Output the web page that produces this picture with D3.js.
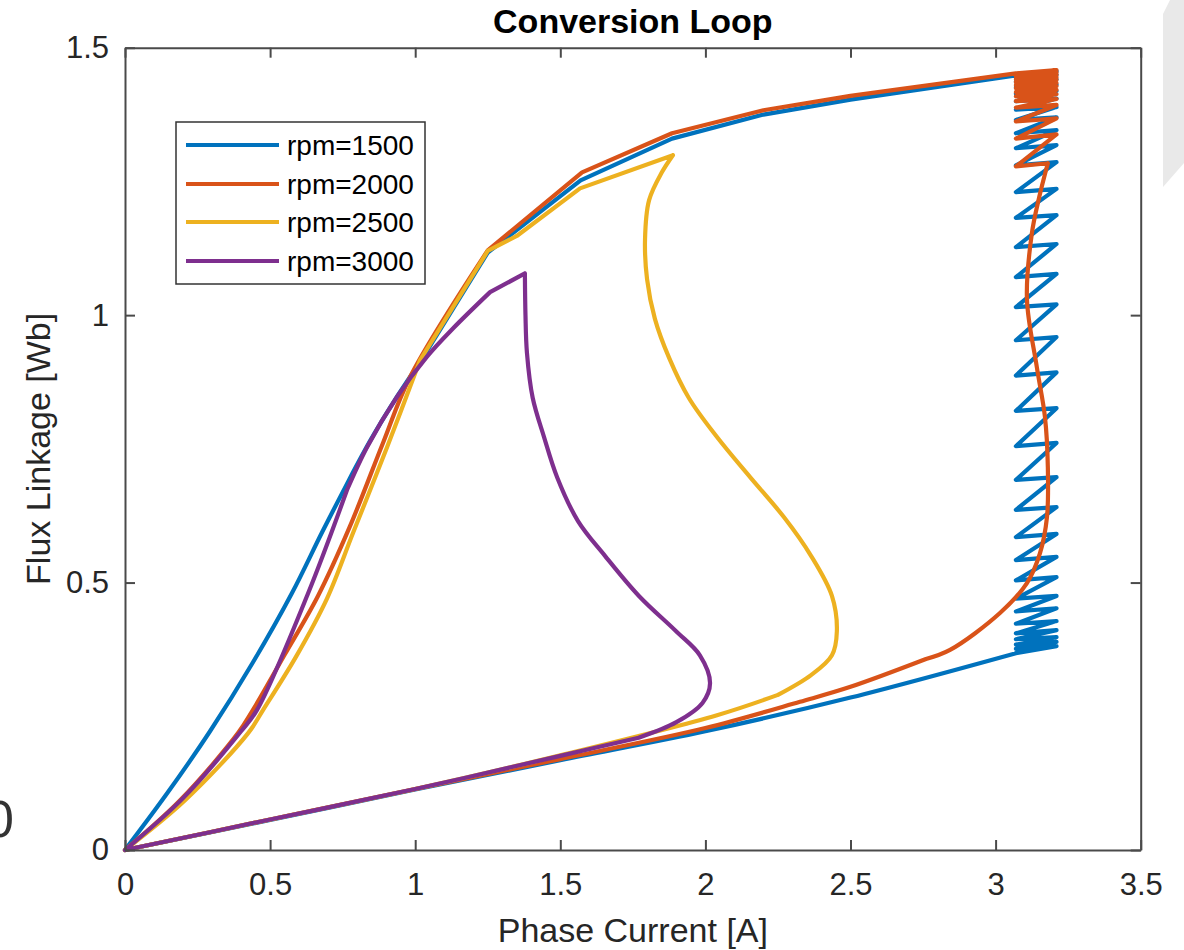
<!DOCTYPE html>
<html>
<head>
<meta charset="utf-8">
<script src="https://cdn.jsdelivr.net/npm/d3@7"></script>
<style>
  html, body { margin: 0; padding: 0; background: #ffffff; }
  svg { display: block; font-family: "Liberation Sans", Arial, Helvetica, sans-serif; }
</style>
</head>
<body>
<svg id="chart" width="1184" height="950"></svg>
<script>
// Flux-linkage vs phase-current conversion loops for four speeds.
const seriesNames = ["rpm=1500", "rpm=2000", "rpm=2500", "rpm=3000"];
const xTickValues = [0, 0.5, 1, 1.5, 2, 2.5, 3, 3.5];
const xTickLabels = ["0", "0.5", "1", "1.5", "2", "2.5", "3", "3.5"];
const yTickValues = [0, 0.5, 1, 1.5];
const yTickLabels = ["0", "0.5", "1", "1.5"];

// Each loop is stored branch by branch, points as [phase current A, flux linkage Wb].
// Smooth branches are drawn with a spline, chopping/sampled branches as straight segments.
const rpm1500Rise = [[0,0],[0.144,0.105],[0.293,0.222],[0.44,0.35],[0.575,0.48],[0.68,0.595],[0.772,0.692]];
const rpm1500Knee = [[0.772,0.692],[0.85,0.77],[0.94,0.85],[1.02,0.915]];
const rpm1500Top = [[1.02,0.915],[1.25,1.117],[1.57,1.252],[1.885,1.33],[2.2,1.375],[2.5,1.403],[3.07,1.448]];
const rpm1500Chop = [
  [3.07,1.448],[3.21,1.456],[3.07,1.444],[3.21,1.449],[3.07,1.436],[3.21,1.441],[3.07,1.426],[3.21,1.431],
  [3.07,1.414],[3.21,1.419],[3.07,1.400],[3.21,1.405],[3.07,1.384],[3.21,1.389],[3.07,1.365],
  [3.21,1.370],[3.07,1.340],[3.21,1.346],[3.07,1.312],[3.21,1.318],[3.07,1.280],[3.21,1.286],
  [3.07,1.230],[3.21,1.236],[3.07,1.182],[3.21,1.187],[3.07,1.127],[3.21,1.133],[3.07,1.071],
  [3.21,1.077],[3.07,1.015],[3.21,1.020],[3.07,0.953],[3.21,0.959],[3.07,0.887],[3.21,0.893],
  [3.07,0.821],[3.21,0.826],[3.07,0.755],[3.21,0.761],[3.07,0.692],[3.21,0.697],[3.07,0.636],
  [3.21,0.641],[3.07,0.585],[3.21,0.591],[3.07,0.542],[3.21,0.548],[3.07,0.504],[3.21,0.510],
  [3.07,0.470],[3.21,0.475],[3.07,0.446],[3.21,0.452],[3.07,0.423],[3.21,0.428],[3.07,0.405],
  [3.21,0.411],[3.07,0.394],[3.21,0.398],[3.07,0.384],[3.21,0.389],[3.07,0.376],[3.21,0.381],
  [3.07,0.368]
];
const rpm1500Base = [[3.07,0.368],[2.5,0.285],[2.0,0.222],[1.5,0.168],[1.0,0.113],[0.5,0.056],[0,0]];

const rpm2000Rise = [[0,0],[0.19,0.093],[0.39,0.219],[0.441,0.262],[0.55,0.365],[0.665,0.475],[0.775,0.605],
  [0.889,0.761],[0.982,0.884],[1.25,1.121]];
const rpm2000Top = [[1.25,1.121],[1.575,1.267],[1.885,1.34],[2.2,1.383],[2.5,1.41],[3.07,1.452]];
const rpm2000Chop = [
  [3.07,1.452],[3.21,1.458],[3.07,1.450],[3.21,1.454],[3.07,1.446],[3.21,1.450],[3.07,1.441],[3.21,1.445],
  [3.07,1.436],[3.21,1.440],[3.07,1.430],[3.21,1.434],[3.07,1.424],[3.21,1.428],[3.07,1.417],
  [3.21,1.421],[3.07,1.409],[3.21,1.413],[3.07,1.400],[3.21,1.404],[3.07,1.388],[3.21,1.393],
  [3.07,1.362],[3.21,1.368],[3.07,1.330],[3.21,1.338],[3.07,1.278],[3.18,1.284]
];
const rpm2000Fall = [[3.18,1.284],[3.15,1.22],[3.125,1.153],[3.108,1.03],[3.142,0.903],[3.17,0.81],
  [3.18,0.716],[3.177,0.622],[3.153,0.555],[3.108,0.499],[3.015,0.443],[2.843,0.374],[2.76,0.357]];
const rpm2000Base = [[2.76,0.357],[2.5,0.305],[2.326,0.277],[2.0,0.228],[1.5,0.17],[1.0,0.114],[0.5,0.057],[0,0]];

const rpm2500Rise = [[0,0],[0.207,0.093],[0.425,0.219],[0.476,0.262],[0.59,0.362],[0.696,0.47],[0.786,0.593],
  [0.903,0.753],[1.017,0.916]];
const rpm2500Top = [[1.017,0.916],[1.25,1.12],[1.35,1.148],[1.568,1.237],[1.888,1.299]];
const rpm2500Fall = [[1.888,1.299],[1.85,1.267],[1.806,1.215],[1.792,1.142],[1.799,1.067],[1.826,0.993],
  [1.875,0.92],[1.943,0.845],[2.04,0.772],[2.154,0.697],[2.271,0.622],[2.364,0.55],[2.436,0.475],
  [2.453,0.409],[2.436,0.364],[2.364,0.327],[2.25,0.29]];
const rpm2500Base = [[2.25,0.29],[2.04,0.252],[1.5,0.177],[1.0,0.114],[0.5,0.057],[0,0]];

const rpm3000Rise = [[0,0],[0.2,0.097],[0.4,0.222],[0.455,0.262],[0.631,0.48],[0.765,0.673]];
const rpm3000Knee = [[0.765,0.673],[0.834,0.753],[0.937,0.847],[1.04,0.922],[1.13,0.975],[1.258,1.043]];
const rpm3000Top = [[1.258,1.043],[1.378,1.078]];
const rpm3000Fall = [[1.378,1.078],[1.38,1.0],[1.385,0.93],[1.405,0.845],[1.444,0.772],[1.489,0.697],
  [1.561,0.615],[1.654,0.55],[1.771,0.475],[1.899,0.409],[1.981,0.364],[2.016,0.312],[1.99,0.275],
  [1.9,0.239],[1.77,0.21]];
const rpm3000Base = [[1.77,0.21],[1.5,0.176],[1.0,0.114],[0.5,0.057],[0,0]];

const colors = ["#0072BD", "#D95319", "#EDB120", "#7E2F8E"];
// branches per series: [points, smooth?]
const seriesBranches = [
  [[rpm1500Rise, true], [rpm1500Knee, true], [rpm1500Top, false], [rpm1500Chop, false], [rpm1500Base, true]],
  [[rpm2000Rise, true], [rpm2000Top, false], [rpm2000Chop, false], [rpm2000Fall, true], [rpm2000Base, true]],
  [[rpm2500Rise, true], [rpm2500Top, false], [rpm2500Fall, true], [rpm2500Base, true]],
  [[rpm3000Rise, true], [rpm3000Knee, true], [rpm3000Top, false], [rpm3000Fall, true], [rpm3000Base, true]]
];

const svg = d3.select("#chart");
const axisColor = "#4a4a4a";
const textColor = "#262626";

// backdrop shapes at the page edges
svg.append("polygon")
  .attr("points", "1163,14 1170,0 1184,0 1184,163 1163,187")
  .attr("fill", "#e9e9e9");
svg.append("text")
  .attr("x", 14).attr("y", 837)
  .attr("text-anchor", "end")
  .attr("font-size", 52)
  .attr("fill", "#333")
  .text("0");

const x = d3.scaleLinear().domain([0, 3.5]).range([125, 1140.7]);
const y = d3.scaleLinear().domain([0, 1.5]).range([850, 47.7]);

// curves
const smoothLine = d3.line().x(d => x(d[0])).y(d => y(d[1])).curve(d3.curveCatmullRom.alpha(0.5));
const straightLine = d3.line().x(d => x(d[0])).y(d => y(d[1])).curve(d3.curveLinear);
const curveG = svg.append("g");
seriesBranches.forEach((branches, i) => {
  const d = branches.map(([pts, smooth]) => (smooth ? smoothLine : straightLine)(pts)).join("");
  curveG.append("path")
    .attr("d", d)
    .attr("fill", "none")
    .attr("stroke", colors[i])
    .attr("stroke-width", 4.2)
    .attr("stroke-linejoin", "round")
    .attr("stroke-linecap", "round");
});

// axes: inward ticks on all four sides
function styleAxis(g) {
  g.select(".domain").attr("stroke", axisColor).attr("stroke-width", 2).attr("fill", "none");
  g.selectAll(".tick line").attr("stroke", axisColor).attr("stroke-width", 2);
  g.selectAll(".tick text").attr("fill", textColor).attr("font-size", 31)
    .attr("font-family", "Liberation Sans, Arial, sans-serif");
}
const xAxis = d3.axisBottom(x).tickValues(xTickValues)
  .tickFormat((d, i) => xTickLabels[i]).tickSizeInner(-10).tickSizeOuter(0).tickPadding(23);
svg.append("g").attr("transform", `translate(0,${y(0)})`).call(xAxis).call(styleAxis);

const xAxisTop = d3.axisTop(x).tickValues(xTickValues)
  .tickFormat("").tickSizeInner(-10).tickSizeOuter(0);
svg.append("g").attr("transform", `translate(0,${y(1.5)})`).call(xAxisTop).call(styleAxis);

const yAxis = d3.axisLeft(y).tickValues(yTickValues)
  .tickFormat((d, i) => yTickLabels[i]).tickSizeInner(-10).tickSizeOuter(0).tickPadding(16);
svg.append("g").attr("transform", `translate(${x(0)},0)`).call(yAxis).call(styleAxis);

const yAxisRight = d3.axisRight(y).tickValues(yTickValues)
  .tickFormat("").tickSizeInner(-10).tickSizeOuter(0);
svg.append("g").attr("transform", `translate(${x(3.5)},0)`).call(yAxisRight).call(styleAxis);

// title and axis labels
svg.append("text")
  .attr("x", (x(0) + x(3.5)) / 2).attr("y", 33)
  .attr("text-anchor", "middle").attr("font-size", 34).attr("font-weight", "bold")
  .attr("fill", "#000").text("Conversion Loop");
svg.append("text")
  .attr("x", (x(0) + x(3.5)) / 2).attr("y", 942)
  .attr("text-anchor", "middle").attr("font-size", 34)
  .attr("fill", textColor).text("Phase Current [A]");
svg.append("text")
  .attr("transform", `translate(50,${(y(0) + y(1.5)) / 2}) rotate(-90)`)
  .attr("text-anchor", "middle").attr("font-size", 34)
  .attr("fill", textColor).text("Flux Linkage [Wb]");

// legend
const lg = svg.append("g");
lg.append("rect")
  .attr("x", 176).attr("y", 122).attr("width", 249).attr("height", 162)
  .attr("fill", "#fff").attr("stroke", "#333").attr("stroke-width", 1.5);
const rowY = [145, 184, 222, 261];
seriesNames.forEach((name, i) => {
  lg.append("line")
    .attr("x1", 186).attr("x2", 279).attr("y1", rowY[i]).attr("y2", rowY[i])
    .attr("stroke", colors[i]).attr("stroke-width", 4.2);
  lg.append("text")
    .attr("x", 287).attr("y", rowY[i]).attr("dy", "0.35em")
    .attr("font-size", 28).attr("fill", "#000").text(name);
});
</script>
</body>
</html>
